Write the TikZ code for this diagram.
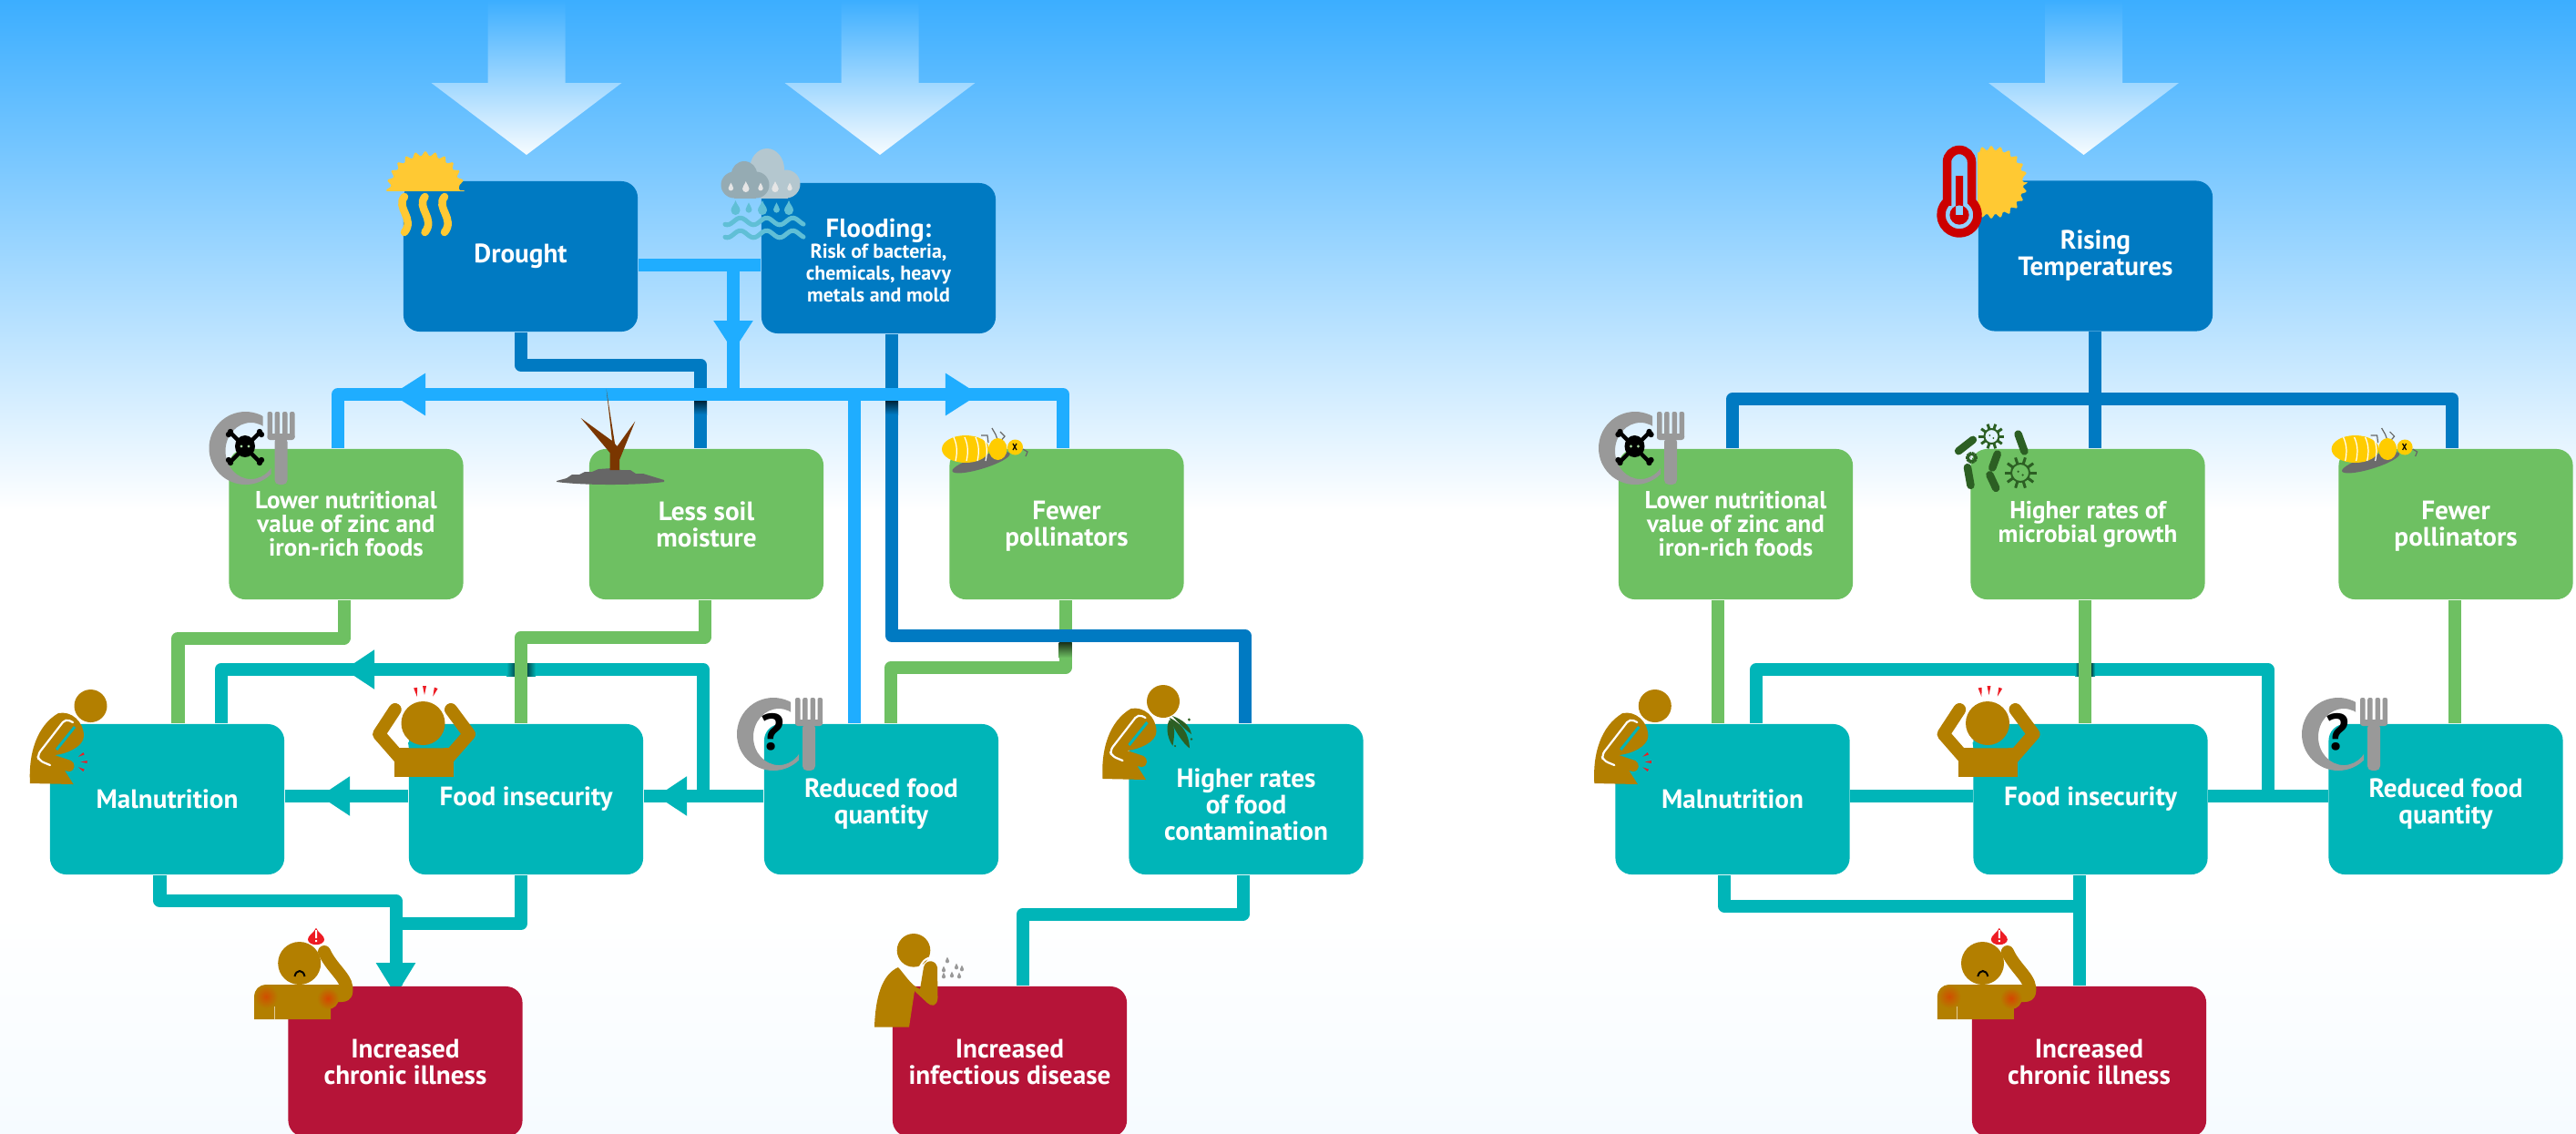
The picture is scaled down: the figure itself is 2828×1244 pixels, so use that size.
\documentclass[tikz,border=0pt]{standalone}
\usepackage{fontspec}
\setmainfont{PT Sans}
\usetikzlibrary{arrows.meta}
\definecolor{skytop}{RGB}{60,174,255}
\definecolor{skyend}{RGB}{246,251,255}
\definecolor{dkblue}{RGB}{0,122,194}
\definecolor{ltblue}{RGB}{31,173,255}
\definecolor{leaf}{RGB}{110,192,98}
\definecolor{teal}{RGB}{0,181,184}
\definecolor{wine}{RGB}{182,20,56}
\definecolor{skin}{RGB}{179,127,0}
\definecolor{sunny}{RGB}{255,201,51}
\definecolor{beeyel}{RGB}{255,204,0}
\definecolor{plategray}{RGB}{153,153,153}
\definecolor{germgreen}{RGB}{44,95,35}
\definecolor{water}{RGB}{96,191,214}
\definecolor{alarm}{RGB}{237,28,36}
\definecolor{cloudback}{RGB}{180,199,207}
\definecolor{cloudfront}{RGB}{149,171,179}
\definecolor{bark}{RGB}{122,54,0}
\pgfdeclarelayer{sky}
\pgfdeclarelayer{links}
\pgfsetlayers{sky,links,main}
\newcommand{\nudge}[1]{\rule{0pt}{#1}}
\tikzset{
	box/.style={rounded corners=0.18cm,minimum width=2.57cm,minimum height=1.65cm,inner sep=0,align=center,text=white,font=\fontsize{8.3}{8.25}\selectfont\bfseries},
	smalltxt/.style={font=\fontsize{7.7}{7.4}\selectfont\bfseries},
	link/.style={line width=0.14cm,line join=round},
	headed/.style 2 args={-{Triangle[length=#1,width=#2]}},
	bigarrow/.style={top color=skytop,bottom color=white!96!skytop},
	dark/.style={top color=black!75!#1,bottom color=#1},
	drop/.pic={\fill[pic actions] (0,-8) .. controls (1.5,-3) and (5,-1) .. (5,3) .. controls (5,6) and (2.5,8) .. (0,8) .. controls (-2.5,8) and (-5,6) .. (-5,3) .. controls (-5,-1) and (-1.5,-3) .. (0,-8) -- cycle;},
	painmark/.pic={\fill[alarm] (-2,-5) -- (2,-5) -- (0,5) -- cycle;},
	sunball/.pic={\fill[sunny,rounded corners=0.015cm] (0:37) \foreach \a in {0,15,...,345} {-- (\a:44) -- (\a+7.5:37)} -- cycle;},
	dish/.pic={
		\begin{scope}
			\clip (-42,-42) rectangle (19,3) (-42,3) rectangle (28,42);
			\fill[plategray,even odd rule] (0,0) circle[radius=40] (6,3) ellipse[x radius=28,y radius=31];
		\end{scope}
		\foreach \s in {24,32.2,40.5,48.5} {\fill[plategray,rounded corners=0.02cm] (\s,-40) rectangle (\s+5.5,-10);}
		\fill[plategray,rounded corners=0.03cm] (24,-16) rectangle (54,-9);
		\fill[plategray,rounded corners=0.05cm] (32,-12) rectangle (46,40);
	},
	skull/.pic={
		\draw[black,line width=0.045cm] (-15,-15) -- (15,15) (15,-15) -- (-15,15);
		\foreach \p in {(-16,-17),(-18,-14),(16,-17),(18,-14),(-16,17),(-18,14),(16,17),(18,14)} {\fill[black] \p circle[radius=3.2];}
		\fill[black] (0,-1) ellipse[x radius=11,y radius=12];
		\fill[leaf!60!white] (-4,-1) circle[radius=1.6] (4,-1) circle[radius=1.6];
	},
	bee/.pic={
		\fill[black!58,rotate=17] (12,19) ellipse[x radius=33,y radius=7];
		\draw[black!60,line width=0.012cm] (25,-7) -- (24,-15) -- (17,-15) (36,-8) -- (33,-16) -- (29,-23) (37,-7) -- (43,-14) -- (38,-19) (63,0) -- (68,3) -- (66,8);
		\fill[beeyel] (0,0) ellipse[x radius=26,y radius=15];
		\fill[beeyel] (35.5,0) ellipse[x radius=10,y radius=12];
		\fill[beeyel] (54.5,-2) circle[radius=8.5];
		\foreach \s in {-13,-1,11,20} {\draw[white,line width=0.012cm] (\s,-13) .. controls (\s+4,-4) and (\s+4,4) .. (\s+2,13);}
		\draw[black,line width=0.012cm] (52,-6) -- (56,1) (56,-6) -- (52,1);
	},
	bentman/.pic={
		\fill[skin] (99.5,775) circle[radius=18];
		\fill[skin] (33,860) .. controls (31,828) and (40,797) .. (64,783) .. controls (78,780) and (92,792) .. (92,808) .. controls (92,820) and (72,828) .. (60,829) -- (78,835) .. controls (83,838) and (83,846) .. (76,847) -- (71,846) -- (80.6,861) -- cycle;
		\draw[white,line width=0.022cm,line cap=round,rounded corners=0.05cm] (80,793) -- (72,789) -- (41,829) -- (43,835) -- (55,840);
		\draw[teal,line width=0.03cm] (82,798) -- (62,823);
	},
	holdman/.pic={
		\draw[skin,line width=0.14cm,line cap=round,line join=round] (433.7,779) -- (416,806) -- (444,838) (495,779) -- (515,806) -- (487,838);
		\fill[skin] (432.6,821.4) rectangle (497.5,852.5);
		\fill[teal] (448,815) -- (482,815) -- (487,821.4) -- (449,821.4) -- cycle;
		\fill[skin] (464.5,794) ellipse[x radius=24,y radius=24];
		\pic[rotate=10] at (457,760) {painmark};
		\pic at (466,758) {painmark};
		\pic[rotate=-20] at (477,760) {painmark};
	},
	sickman/.pic={
		\fill[skin] (328.7,1057.5) circle[radius=23.5];
		\draw[skin,line width=0.14cm,line cap=round] (356,1045) .. controls (365,1065) and (384,1075) .. (380,1090);
		\fill[skin] (279,1119) -- (279,1097) .. controls (279,1086) and (285,1081) .. (295,1081) -- (372,1081) -- (387,1090) .. controls (386,1098) and (380,1100) .. (375,1100) -- (363,1100) -- (363,1119) -- cycle;
		\shade[inner color=red!38!skin,outer color=skin] (292,1094) circle[radius=13];
		\shade[inner color=red!45!skin,outer color=skin] (360,1096) circle[radius=12];
		\draw[white!60!skin,line width=0.008cm] (301,1105) -- (301,1119);
		\draw[black,line width=0.02cm] (323.5,1072) .. controls (325,1064) and (333,1064) .. (334.5,1072);
		\pic[fill=alarm,xscale=1.8,yscale=1.15] at (347,1028) {drop};
		\fill[white] (346,1021) rectangle (348,1030) (346,1032) rectangle (348,1034);
	},
	germ/.pic={
		\draw[germgreen,line width=0.02cm] (0,0) circle[radius=8];
		\foreach \a in {0,36,...,324} {\draw[germgreen,line width=0.03cm] (\a:8) -- (\a:14);}
		\fill[germgreen] (-2,-1) circle[radius=1] (2,2) circle[radius=1];
	},
	rod/.pic={\draw[germgreen,line width=0.085cm,line cap=round] (-10,0) -- (10,0);}
}
\begin{document}
\begin{tikzpicture}[x=0.01cm,y=-0.01cm]
	\useasboundingbox (0,0) rectangle (2828,1244);
	\begin{pgfonlayer}{sky}
		\fill[white] (0,0) rectangle (2828,1244);
		\shade[top color=skytop,bottom color=white] (0,0) rectangle (2828,560);
		\shade[top color=white,bottom color=skyend] (0,1000) rectangle (2828,1244);
		\foreach \c in {578,966,2287.5}
		{
			\shade[bigarrow] (\c-42.5,0) -- (\c-42.5,91) -- (\c-104.5,91) -- (\c,170) -- (\c+104.5,91) -- (\c+42.5,91) -- (\c+42.5,0) -- cycle;
		}
	\end{pgfonlayer}

	\node[box,fill=dkblue] (drought) at (571.5,281.5) {Drought};
	\node[box,fill=dkblue,font=\fontsize{6.25}{6.7}\selectfont\bfseries] (flood) at (964.5,283.5) {\fontsize{8.15}{8}\selectfont \nudge{7pt}Flooding:\\Risk of bacteria,\\chemicals, heavy\\metals and mold};
	\node[box,fill=leaf,smalltxt] (lowleft) at (380,575.5) {Lower nutritional\\value of zinc and\\iron-rich foods};
	\node[box,fill=leaf] (soil) at (775.5,575.5) {Less soil\\moisture};
	\node[box,fill=leaf] (fewleft) at (1171,575.5) {\nudge{6.8pt}Fewer\\pollinators};
	\node[box,fill=teal] (malleft) at (183.5,877.5) {Malnutrition};
	\node[box,fill=teal] (insleft) at (577.5,877.5) {Food insecurity};
	\node[box,fill=teal] (redleft) at (967.5,877.5) {\nudge{8.6pt}Reduced food\\quantity};
	\node[box,fill=teal] (contam) at (1368,877.5) {\nudge{9.2pt}Higher rates\\of food\\contamination};
	\node[box,fill=wine] (chrleft) at (445,1165.5) {Increased\\chronic illness};
	\node[box,fill=wine] (infect) at (1108.5,1165.5) {Increased\\infectious disease};

	\node[box,fill=dkblue] (rising) at (2300.5,281) {Rising\\Temperatures};
	\node[box,fill=leaf,smalltxt] (lowright) at (1905.5,575.5) {Lower nutritional\\value of zinc and\\iron-rich foods};
	\node[box,fill=leaf,smalltxt] (microbe) at (2292,575.5) {Higher rates of\\microbial growth};
	\node[box,fill=leaf] (fewright) at (2696,575.5) {\nudge{6.8pt}Fewer\\pollinators};
	\node[box,fill=teal] (malright) at (1902,877.5) {Malnutrition};
	\node[box,fill=teal] (insright) at (2295,877.5) {Food insecurity};
	\node[box,fill=teal] (redright) at (2685,877.5) {\nudge{8.6pt}Reduced food\\quantity};
	\node[box,fill=wine] (chrright) at (2293.5,1165.5) {Increased\\chronic illness};

	\coordinate (row) at (0,874);
	\coordinate (dr1) at (769,400.5);
	\coordinate (fl1) at (979,698);
	\coordinate (fl2) at (1366.5,698);
	\coordinate (main1) at (371,433);
	\coordinate (main2) at (1167,433);
	\coordinate (midblue) at (805,291);
	\coordinate (redblue) at (937.5,433);
	\coordinate (gl1) at (377.5,700.5);
	\coordinate (gl2) at (195.5,700.5);
	\coordinate (gs1) at (773.5,699.5);
	\coordinate (gs2) at (572,699.5);
	\coordinate (gf1) at (1169.5,733);
	\coordinate (gf2) at (978,733);
	\coordinate (loop1) at (772,735);
	\coordinate (loop2) at (242.5,735);
	\coordinate (mb1) at (175.5,989);
	\coordinate (mb2) at (434.5,989);
	\coordinate (fb1) at (572,1014);
	\coordinate (cb1) at (1364.5,1003.5);
	\coordinate (cb2) at (1123,1003.5);
	\coordinate (rt1) at (2300,438);
	\coordinate (rt2) at (1902,438);
	\coordinate (rt3) at (2692,438);
	\coordinate (rloop1) at (2489.5,735);
	\coordinate (rloop2) at (1928,735);
	\coordinate (rmb1) at (1893,994.5);
	\coordinate (rmb2) at (2283,994.5);
	\coordinate (rg1) at (1886,700);
	\coordinate (rg2) at (2289,700);
	\coordinate (rg3) at (2695,700);

	\begin{pgfonlayer}{links}
		\draw[link,teal] (redleft.west |- row) -- (insleft.east |- row);
		\draw[link,teal] (insleft.west |- row) -- (malleft.east |- row);
		\draw[link,teal] (loop1 |- row) -- (loop1) -- (loop2) -- (loop2 |- malleft.north);
		\shade[left color=teal,right color=black!75!teal] (556,728) rectangle (568,742);
		\shade[left color=black!75!teal,right color=teal] (576,728) rectangle (588,742);
		\draw[link,teal,headed={0.33cm}{0.41cm}] (430,735) -- (378,735);
		\draw[link,teal,headed={0.33cm}{0.41cm}] (410,874) -- (351,874);
		\draw[link,teal,headed={0.33cm}{0.41cm}] (785,874) -- (721,874);

		\draw[link,teal] (malleft.south -| mb1) -- (mb1) -- (mb2) -- (mb2 |- chrleft.north);
		\draw[link,teal] (fb1 |- insleft.south) -- (fb1) -- (mb2 |- fb1);
		\draw[link,teal,headed={0.36cm}{0.41cm}] (434.5,1030) -- (434.5,1093);
		\draw[link,teal] (cb1 |- contam.south) -- (cb1) -- (cb2) -- (cb2 |- infect.north);

		\draw[link,leaf] (gl1 |- lowleft.south) -- (gl1) -- (gl2) -- (gl2 |- malleft.north);
		\draw[link,leaf] (gs1 |- soil.south) -- (gs1) -- (gs2) -- (gs2 |- insleft.north);
		\draw[link,leaf] (gf1 |- fewleft.south) -- (gf1) -- (gf2) -- (gf2 |- redleft.north);
		\shade[dark=leaf] (1162.5,705) rectangle (1176.5,722);

		\draw[link,dkblue] (drought.south) |- (dr1) -- (dr1 |- soil.north);
		\draw[link,dkblue] (fl1 |- flood.south) -- (fl1) -- (fl2) -- (fl2 |- contam.north);
		\shade[dark=dkblue] (762,439) rectangle (776,455);
		\shade[dark=dkblue] (972,439) rectangle (986,455);

		\draw[link,ltblue] (drought.east |- midblue) -- (flood.west |- midblue);
		\draw[link,ltblue,line cap=round] (midblue) -- (main1 -| midblue);
		\draw[link,ltblue] (main1 |- lowleft.north) -- (main1) -- (main2) -- (main2 |- fewleft.north);
		\draw[link,ltblue] (redblue) -- (redblue |- redleft.north);
		\draw[link,ltblue,headed={0.34cm}{0.41cm}] (805,330) -- (805,386);
		\draw[link,ltblue,headed={0.37cm}{0.44cm}] (480,433) -- (430,433);
		\draw[link,ltblue,headed={0.37cm}{0.44cm}] (1025,433) -- (1075,433);

		\draw[link,dkblue] (rt1 |- rising.south) -- (rt1 |- microbe.north);
		\draw[link,dkblue] (rt2 |- lowright.north) -- (rt2) -- (rt3) -- (rt3 |- fewright.north);

		\draw[link,teal] (malright.east |- row) -- (insright.west |- row);
		\draw[link,teal] (insright.east |- row) -- (redright.west |- row);
		\draw[link,teal] (rloop1 |- row) -- (rloop1) -- (rloop2) -- (rloop2 |- malright.north);
		\shade[left color=teal,right color=black!75!teal] (2278,728) rectangle (2283,742);
		\shade[left color=black!75!teal,right color=teal] (2295,728) rectangle (2300,742);
		\draw[link,teal] (rmb1 |- malright.south) -- (rmb1) -- (rmb2);
		\draw[link,teal] (rmb2 |- insright.south) -- (rmb2 |- chrright.north);

		\draw[link,leaf] (rg1 |- lowright.south) -- (rg1 |- malright.north);
		\draw[link,leaf] (rg2 |- microbe.south) -- (rg2 |- insright.north);
		\draw[link,leaf] (rg3 |- fewright.south) -- (rg3 |- redright.north);
	\end{pgfonlayer}

	\begin{scope}
		\clip (400,150) rectangle (530,209);
		\pic at (467,209) {sunball};
	\end{scope}
	\foreach \s in {0,22.5,44}
	{
		\draw[sunny,line width=0.085cm,line cap=round] (444+\s,216) .. controls (434+\s,228) and (456+\s,240) .. (444+\s,255);
	}

	\fill[cloudback] (842,186) ellipse[x radius=19,y radius=23];
	\fill[cloudback] (863,202) circle[radius=15.5];
	\fill[cloudback] (835,200) rectangle (865,217.5);
	\fill[cloudfront] (817,191) circle[radius=14];
	\fill[cloudfront] (806,203) circle[radius=14.5];
	\fill[cloudfront] (830,203) circle[radius=14.5];
	\fill[cloudfront] (806,203) rectangle (830,217.5);
	\foreach \x/\s in {802.4/.55,818.8/.75,835/.55,851/.75,867/.55}
	{
		\pic[fill=white!90!black,scale=\s] at (\x,205) {drop};
	}
	\foreach \x/\s in {807.5/1,822/.7,837/1,852.5/.7,866/1}
	{
		\pic[fill=water,scale=\s] at (\x,228) {drop};
	}
	\foreach \y in {243,257}
	{
		\draw[water,line width=0.05cm,line cap=round] plot[domain=0:86,samples=40,smooth,variable=\t] (796+\t,{\y+3.8*sin(\t*12.5+60)});
	}

	\fill[black!60] (611,528) -- (622,525) -- (628,521) -- (636,521) -- (642,518) -- (650,518) -- (657,515) -- (672,514) -- (682,516) -- (692,516) -- (698,520) -- (706,520) -- (729,527) -- (729,529) .. controls (700,533) and (640,533) .. (611,529) -- cycle;
	\fill[bark] (669.5,516) -- (669.5,497) -- (637.7,459) -- (672,484) -- (665.7,427.5) -- (675,487) -- (677.5,490) -- (697.3,462.5) -- (680,505) -- (680,516) -- cycle;

	\pic at (269.5,492) {dish};
	\pic at (269,491) {skull};
	\pic at (1795,492) {dish};
	\pic at (1794.5,491) {skull};
	\pic at (849,806) {dish};
	\pic at (2567,806) {dish};
	\node[font=\fontsize{16}{16}\selectfont\bfseries,text=black,inner sep=0] (askleft) at (848,804) {?};
	\node[font=\fontsize{16}{16}\selectfont\bfseries,text=black,inner sep=0] (askright) at (2566,804) {?};

	\pic at (1060,493) {bee};
	\pic at (2585.6,493) {bee};

	\foreach \sh in {0,1717.3}
	{
		\pic at (\sh,0) {bentman};
		\pic[rotate=-60,scale=.7] at (89+\sh,829) {painmark};
		\pic[rotate=-90,scale=.7] at (92+\sh,836.5) {painmark};
		\pic[rotate=-120,scale=.7] at (89+\sh,844) {painmark};
	}
	\pic at (1177.5,-5) {bentman};
	\fill[germgreen] (1284,790) .. controls (1278,800) and (1284,815) .. (1287.5,818.6) .. controls (1290,805) and (1290,795) .. (1284,790) -- cycle;
	\fill[germgreen] (1284,788) .. controls (1288,800) and (1300,818) .. (1306,821.4) .. controls (1305,805) and (1298,795) .. (1284,788) -- cycle;
	\fill[germgreen] (1287,786) .. controls (1292,792) and (1302,802) .. (1308,806) .. controls (1306,796) and (1298,790) .. (1287,786) -- cycle;
	\fill[germgreen] (1305.4,790) circle[radius=1.6] (1308,811.4) circle[radius=1.4] (1290,819) circle[radius=1.2];

	\pic at (0,0) {holdman};
	\pic at (1717.5,0) {holdman};
	\pic at (0,0) {sickman};
	\pic at (1847.8,0) {sickman};

	\fill[skin] (1003,1043.3) circle[radius=18.3];
	\fill[skin] (960,1127.7) .. controls (961,1095) and (968,1070) .. (986,1062) .. controls (992,1068) and (1000,1082) .. (1010,1086) -- (1014,1062) .. controls (1016,1053) and (1027,1053) .. (1029,1062) -- (1029.5,1095) .. controls (1029,1106) and (1022,1105) .. (1018,1101) -- (1004,1088) -- (998,1127.7) -- cycle;
	\draw[white,line width=0.02cm] (1009,1064) .. controls (1013,1052) and (1021,1050) .. (1026,1052);
	\foreach \x/\y in {1040/1054,1050/1061,1036/1064,1045/1070,1053/1071,1056/1063,1036/1071}
	{
		\pic[fill=plategray,scale=.42] at (\x,\y) {drop};
	}

	\begin{scope}
		\clip (2171,150) rectangle (2240,250);
		\pic[scale=.93] at (2186,200) {sunball};
	\end{scope}
	\draw[red!80!black,line width=0.095cm] (2137.5,221.2) -- (2137.5,178) arc[start angle=180,end angle=360,radius=13.5] -- (2164.5,221.2) arc[start angle=-47.5,end angle=227.5,radius=20] -- cycle;
	\fill[red!80!black] (2151,236) circle[radius=10.6] (2147,193) rectangle (2155,236);

	\pic at (2186.4,479) {germ};
	\pic[scale=1.25] at (2218,519) {germ};
	\pic[scale=.45] at (2164.5,502.5) {germ};
	\pic[rotate=38] at (2158,489) {rod};
	\pic[rotate=-70] at (2219,486) {rod};
	\pic[rotate=70,scale=.8] at (2190,506) {rod};
	\pic[rotate=-80] at (2161.7,523) {rod};
	\pic[rotate=-65,scale=.8] at (2187.8,528.6) {rod};
\end{tikzpicture}
\end{document}
